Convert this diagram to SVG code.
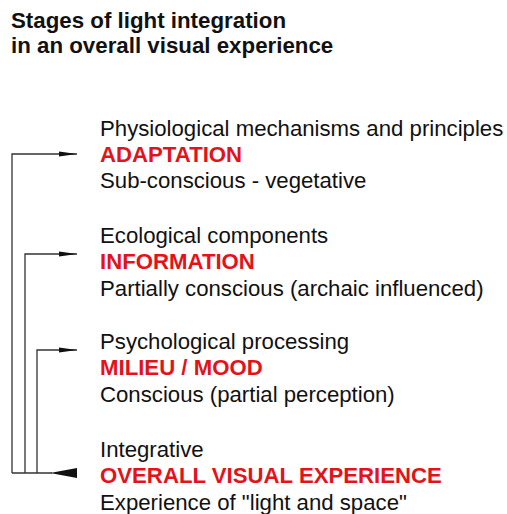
<svg xmlns="http://www.w3.org/2000/svg" width="507" height="514" viewBox="0 0 507 514">
<defs>
<marker id="arr" markerUnits="userSpaceOnUse" markerWidth="18" markerHeight="6" refX="18" refY="3" orient="auto">
<path d="M0,0.5 L18,3 L0,5.5 Z" fill="#111"/>
</marker>
<style>
text{font-family:"Liberation Sans",Arial,sans-serif;font-size:22.2px;fill:#111}
.t{font-weight:bold;font-size:22.3px}
.r{font-weight:bold;fill:#e3131b}
.c{fill:none;stroke:#333;stroke-width:1.3}
</style>
</defs>
<rect width="507" height="514" fill="#fff"/>
<g id="title">
<text class="t" x="11" y="28">Stages of light integration</text>
<text class="t" x="11" y="53">in an overall visual experience</text>
</g>
<g id="connectors">
<path class="c" d="M12,473 V154 H77" marker-end="url(#arr)"/>
<path class="c" d="M25,473 V254 H77" marker-end="url(#arr)"/>
<path class="c" d="M37,473 V350 H77" marker-end="url(#arr)"/>
<path class="c" d="M12,473 H52"/>
<polygon points="50,473 77,468 77,478" fill="#111"/>
</g>
<g id="adaptation">
<text x="100" y="135.5">Physiological mechanisms and principles</text>
<text class="r" x="100" y="161.5">ADAPTATION</text>
<text x="100" y="188">Sub-conscious - vegetative</text>
</g>
<g id="information">
<text x="100" y="242.5">Ecological components</text>
<text class="r" x="100" y="268.5">INFORMATION</text>
<text x="100" y="295.5">Partially conscious (archaic influenced)</text>
</g>
<g id="milieu">
<text x="100" y="349">Psychological processing</text>
<text class="r" x="100" y="375">MILIEU / MOOD</text>
<text x="100" y="402">Conscious (partial perception)</text>
</g>
<g id="overall">
<text x="100" y="456.5">Integrative</text>
<text class="r" x="100" y="483">OVERALL VISUAL EXPERIENCE</text>
<text x="100" y="509.5">Experience of "light and space"</text>
</g>
</svg>
